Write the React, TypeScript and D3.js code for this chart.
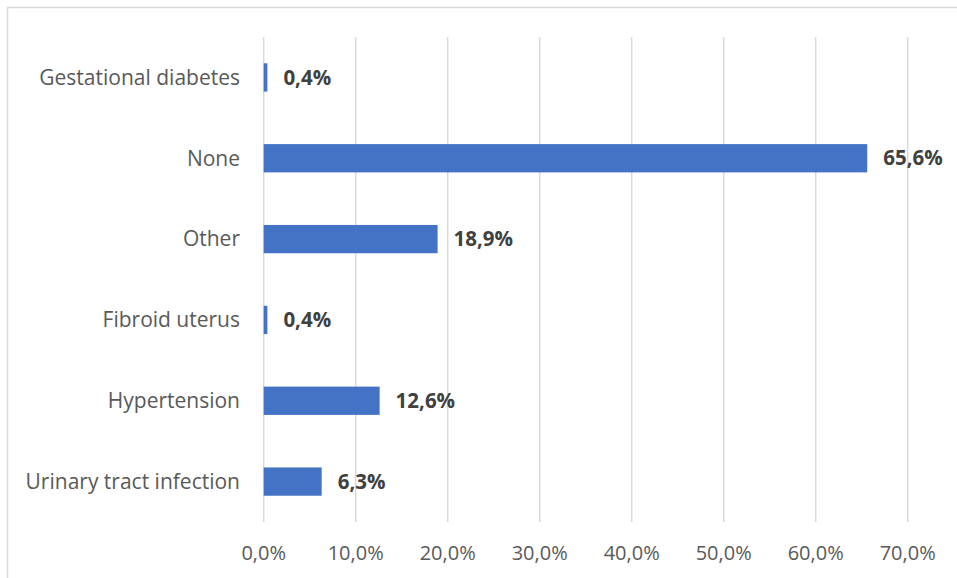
import React from "react";
import * as d3 from "d3";

const categories = [
  "Gestational diabetes",
  "None",
  "Other",
  "Fibroid uterus",
  "Hypertension",
  "Urinary tract infection",
];
const values = [0.4, 65.6, 18.9, 0.4, 12.6, 6.3];
const tickValues = [0, 10, 20, 30, 40, 50, 60, 70];

const W = 957;
const H = 578;
const margin = { left: 263.7, right: W - 907.7, top: 37, bottom: H - 522 };

const fmt = (v: number, digits: number) => v.toFixed(digits).replace(".", ",") + "%";

export default function App() {
  const x = d3.scaleLinear().domain([0, 70]).range([margin.left, W - margin.right]);
  const y = d3
    .scaleBand<string>()
    .domain(categories)
    .range([margin.top, H - margin.bottom])
    .paddingInner(0.65)
    .paddingOuter(0.325);

  const font = "'Open Sans', sans-serif";

  return (
    <svg
      width={W}
      height={H}
      style={{ position: "absolute", left: 0, top: 0, background: "#fff" }}
    >
      <rect x={7.5} y={7.5} width={W} height={H} fill="#fff" stroke="#d9d9d9" strokeWidth={1.5} />
      {tickValues.map((t) => (
        <line
          key={t}
          x1={x(t)}
          x2={x(t)}
          y1={margin.top}
          y2={H - margin.bottom}
          stroke="#d9d9d9"
          strokeWidth={1.5}
        />
      ))}
      {categories.map((c, i) => (
        <g key={c}>
          <rect
            x={x(0)}
            y={y(c)}
            width={x(values[i]) - x(0)}
            height={y.bandwidth()}
            fill="#4472C4"
          />
          <text
            x={240}
            y={(y(c) as number) + y.bandwidth() / 2}
            dy="0.35em"
            textAnchor="end"
            fontFamily={font}
            fontSize={21}
            fill="#595959"
          >
            {c}
          </text>
          <text
            x={x(values[i]) + 16}
            y={(y(c) as number) + y.bandwidth() / 2}
            dy="0.35em"
            fontFamily={font}
            fontSize={20.5}
            fontWeight="bold"
            fill="#404040"
          >
            {fmt(values[i], 1)}
          </text>
        </g>
      ))}
      {tickValues.map((t) => (
        <text
          key={t}
          x={x(t)}
          y={560}
          textAnchor="middle"
          fontFamily={font}
          fontSize={20}
          fill="#595959"
        >
          {fmt(t, 1)}
        </text>
      ))}
    </svg>
  );
}
